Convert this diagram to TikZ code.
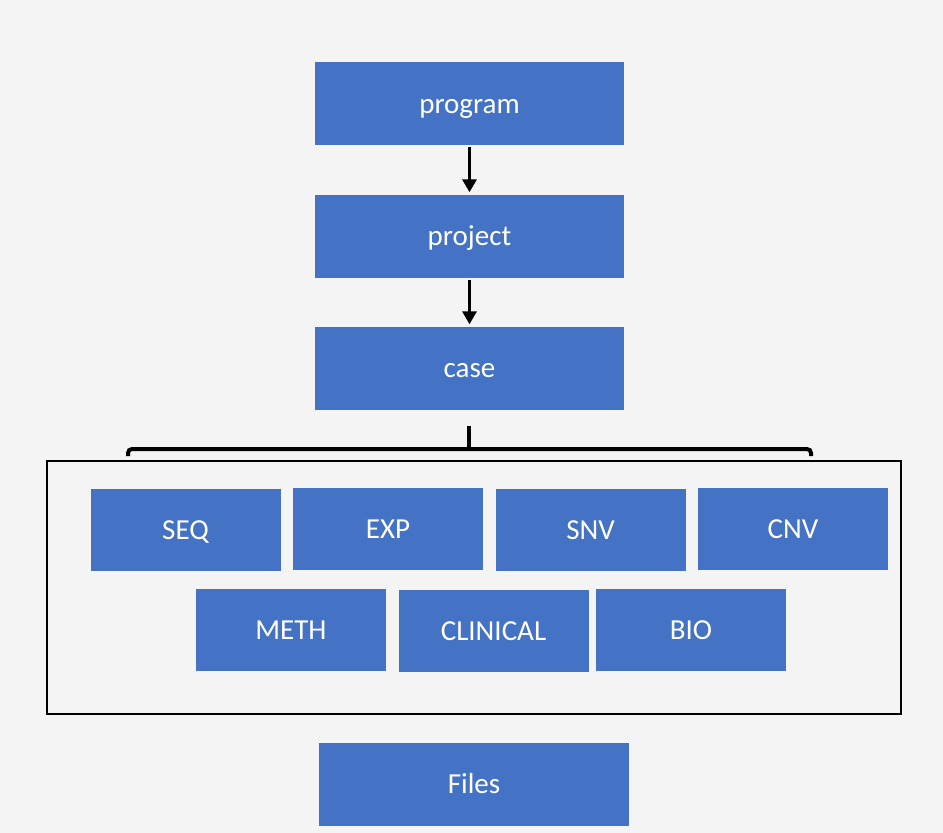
\documentclass[tikz,border=0pt]{standalone}
\usepackage{fontspec}
\setmainfont{Carlito}
\usetikzlibrary{arrows.meta}
\definecolor{boxblue}{HTML}{4472C4}
\definecolor{bggray}{HTML}{F4F4F4}

\begin{document}
\begin{tikzpicture}[x=1pt, y=-1pt,
    blk/.style={fill=boxblue, text=white, minimum width=190pt, minimum height=82pt, inner sep=0pt, text height=19pt, text depth=0pt, font=\fontsize{29}{32}\selectfont},
    wide/.style={blk, minimum width=309pt, minimum height=83pt},
    link/.style={line width=3pt, -{Triangle[length=13pt, width=14pt]}, shorten >=2pt, shorten <=2pt}]

    \fill[bggray] (0, 0) rectangle (943, 833);
    \useasboundingbox (0, 0) rectangle (943, 833);

    \node[wide] (a) at (469.5, 103.5) {program};
    \node[wide] (b) at (469.5, 236) {project};
    \node[wide] (c) at (469.5, 368) {case};
    \node[draw, line width=2pt, minimum width=854pt, minimum height=253pt] (g) at (474, 587.5) {};
    \node[blk] (d) at (185.5, 530) {SEQ};
    \node[blk] (e) at (388, 529) {EXP};
    \node[blk] (f) at (590.5, 530) {SNV};
    \node[blk] (h) at (793, 529) {CNV};
    \node[blk] (i) at (291, 630) {METH};
    \node[blk] (j) at (493.5, 630.5) {CLINICAL};
    \node[blk] (k) at (691, 630) {BIO};
    \node[wide, minimum width=310pt] (l) at (474, 784) {Files};

    \coordinate (s) at (469, 426);
    \coordinate (m) at (469, 449);
    \coordinate (p) at (128, 456);
    \coordinate (q) at (811, 456);

    \draw [link] (a) to (b);
    \draw [link] (b) to (c);
    \draw [line width=4pt] (s) to (m);
    \draw [line width=4pt, rounded corners=4pt] (p) |- (m) -| (q);

\end{tikzpicture}
\end{document}
